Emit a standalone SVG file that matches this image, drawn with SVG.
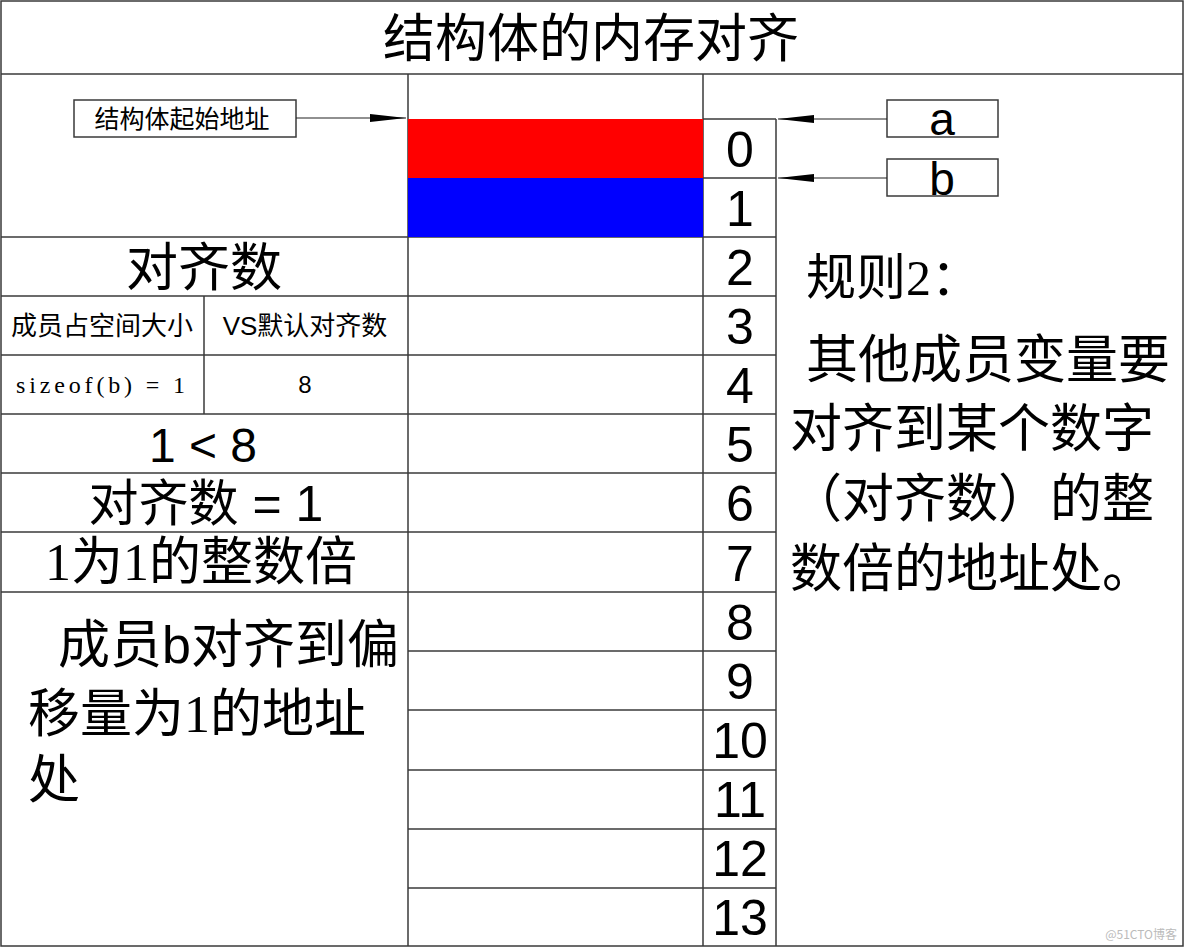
<svg xmlns="http://www.w3.org/2000/svg" width="1184" height="947" viewBox="0 0 1184 947">
<style>
.ln{stroke:#3a3a3a;stroke-width:1.5;fill:none}
.cj{font-family:"Liberation Serif","Noto Sans CJK SC",serif;fill:#000}
.ar{font-family:"Liberation Sans","Noto Sans CJK SC",sans-serif;fill:#000}
.num{font-family:"Liberation Sans",sans-serif;font-size:50px;text-anchor:middle;fill:#000}
.box{fill:#fff;stroke:#3a3a3a;stroke-width:1.5}
.arw{stroke:#222;stroke-width:1.2;fill:none}
</style>
<defs>
<marker id="ah" markerWidth="36" markerHeight="10" refX="36" refY="5" orient="auto" markerUnits="userSpaceOnUse">
<path d="M0,1 L36,5 L0,9 Z" fill="#000"/>
</marker>
</defs>
<rect width="1184" height="947" fill="#fff"/>
<g id="frame">
<rect x="1" y="1" width="1182" height="945" class="ln"/>
<line x1="1" y1="74" x2="1183" y2="74" class="ln"/>
<line x1="408" y1="74" x2="408" y2="946" class="ln"/>
<line x1="703" y1="74" x2="703" y2="946" class="ln"/>
<line x1="776" y1="119" x2="776" y2="946" class="ln"/>
<line x1="703" y1="119" x2="776" y2="119" class="ln"/>
<line x1="703" y1="178" x2="776" y2="178" class="ln"/>
<line x1="1" y1="237" x2="776" y2="237" class="ln"/>
<line x1="1" y1="296" x2="776" y2="296" class="ln"/>
<line x1="1" y1="355" x2="776" y2="355" class="ln"/>
<line x1="1" y1="414" x2="776" y2="414" class="ln"/>
<line x1="1" y1="473" x2="776" y2="473" class="ln"/>
<line x1="1" y1="532" x2="776" y2="532" class="ln"/>
<line x1="1" y1="592" x2="776" y2="592" class="ln"/>
<line x1="408" y1="651" x2="776" y2="651" class="ln"/>
<line x1="408" y1="710" x2="776" y2="710" class="ln"/>
<line x1="408" y1="770" x2="776" y2="770" class="ln"/>
<line x1="408" y1="829" x2="776" y2="829" class="ln"/>
<line x1="408" y1="888" x2="776" y2="888" class="ln"/>
<line x1="204" y1="296" x2="204" y2="414" class="ln"/>
</g>
<g id="title">
<text x="591" y="57" class="cj" font-size="52" text-anchor="middle">结构体的内存对齐</text>
</g>
<g id="member-a">
<rect x="408" y="119" width="295" height="59" fill="#ff0000"/>
</g>
<g id="member-b">
<rect x="408" y="178" width="295" height="59" fill="#0000ff"/>
</g>
<g id="offsets">
<text x="740" y="167" class="num">0</text>
<text x="740" y="226" class="num">1</text>
<text x="740" y="285" class="num">2</text>
<text x="740" y="344" class="num">3</text>
<text x="740" y="403" class="num">4</text>
<text x="740" y="462" class="num">5</text>
<text x="740" y="521" class="num">6</text>
<text x="740" y="581" class="num">7</text>
<text x="740" y="640" class="num">8</text>
<text x="740" y="699" class="num">9</text>
<text x="740" y="758" class="num">10</text>
<text x="740" y="817" class="num">11</text>
<text x="740" y="876" class="num">12</text>
<text x="740" y="935" class="num">13</text>
</g>
<g id="start-label">
<rect x="74" y="100" width="222" height="37" class="box"/>
<text x="182" y="128" class="cj" font-size="25" text-anchor="middle">结构体起始地址</text>
</g>
<g id="label-a">
<rect x="887" y="100" width="111" height="37" class="box"/>
<text x="942" y="135" class="ar" font-size="46" text-anchor="middle">a</text>
</g>
<g id="label-b">
<rect x="887" y="159" width="111" height="37" class="box"/>
<text x="942" y="195" class="ar" font-size="46" text-anchor="middle">b</text>
</g>
<g id="connectors">
<line x1="296" y1="118" x2="406" y2="118" class="arw" marker-end="url(#ah)"/>
<line x1="887" y1="119" x2="778" y2="119" class="arw" marker-end="url(#ah)"/>
<line x1="887" y1="178" x2="778" y2="178" class="arw" marker-end="url(#ah)"/>
</g>
<g id="align-table">
<text x="204" y="286" class="cj" font-size="52" text-anchor="middle">对齐数</text>
<text x="102" y="335" class="cj" font-size="26" text-anchor="middle">成员占空间大小</text>
<text x="305" y="335" class="ar" font-size="26" text-anchor="middle">VS默认对齐数</text>
<text x="16" y="393" class="cj" font-size="24" textLength="169" lengthAdjust="spacing">sizeof(b) = 1</text>
<text x="305" y="393" class="ar" font-size="24" text-anchor="middle">8</text>
<text x="203" y="462" class="ar" font-size="48" text-anchor="middle">1 &lt; 8</text>
<text x="206" y="521" class="ar" font-size="50" text-anchor="middle">对齐数 = 1</text>
<text x="45" y="580" class="cj" font-size="52">1为1的整数倍</text>
<text class="cj" font-size="52"><tspan x="58" y="663">成员<tspan class="ar">b</tspan>对齐到偏</tspan><tspan x="28" y="732">移量为1的地址</tspan><tspan x="28" y="798">处</tspan></text>
</g>
<g id="rule">
<text x="806" y="295" class="cj" font-size="50">规则2：</text>
<text class="cj" font-size="52"><tspan x="806" y="378">其他成员变量要</tspan><tspan x="790" y="447">对齐到某个数字</tspan><tspan x="790" y="517">（对齐数）的整</tspan><tspan x="790" y="587">数倍的地址处。</tspan></text>
</g>
<g id="watermark">
<text x="1177" y="939" font-family="'Noto Sans CJK SC',sans-serif" font-size="12" fill="#bbbbbb" text-anchor="end">@51CTO博客</text>
</g>
</svg>
